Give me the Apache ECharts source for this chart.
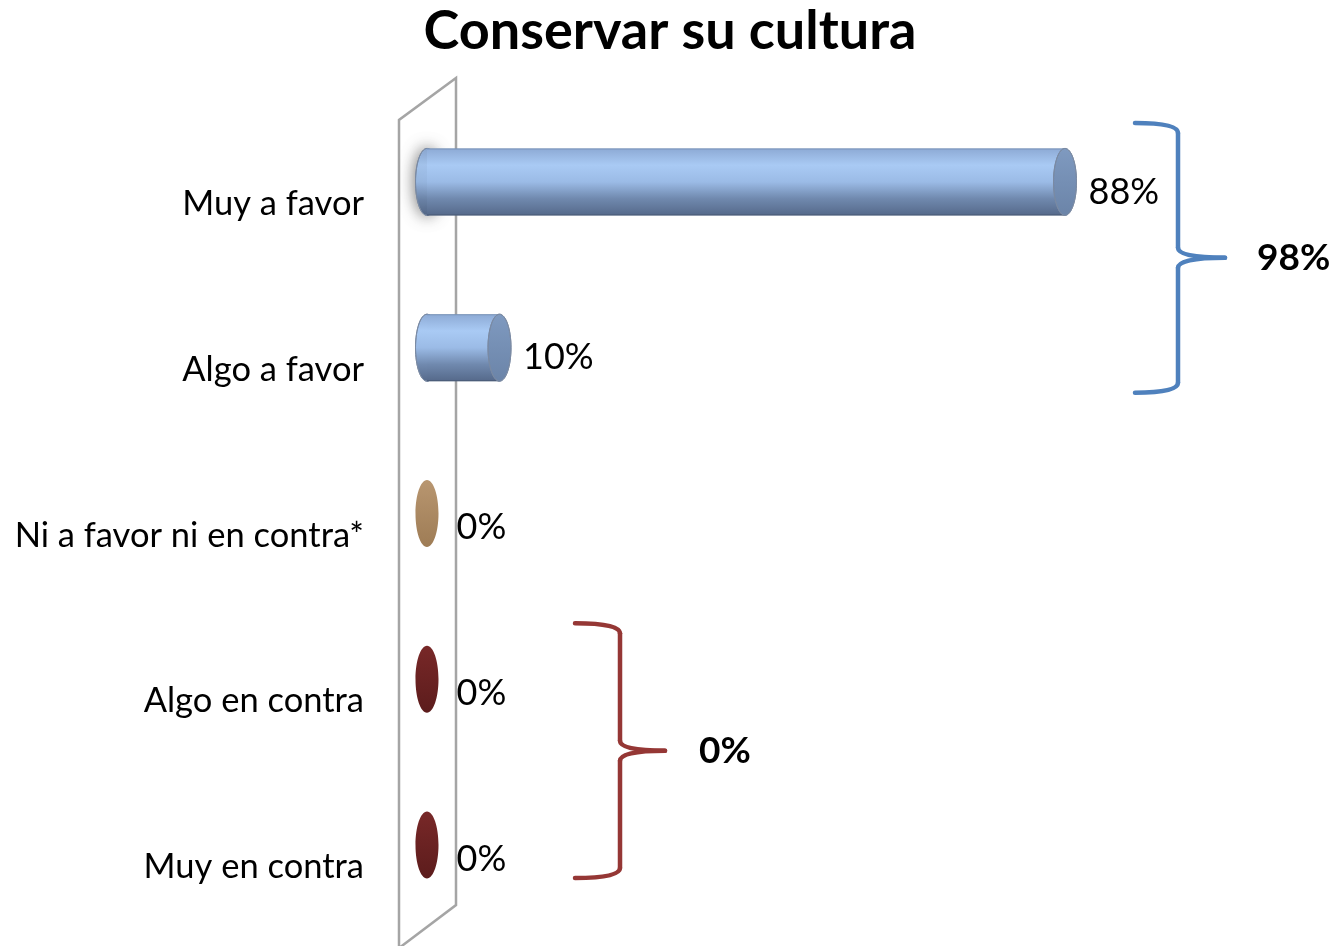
<!DOCTYPE html>
<html><head><meta charset="utf-8">
<script src="https://cdn.jsdelivr.net/npm/echarts@6/dist/echarts.min.js"></script>
<style>html,body{margin:0;padding:0;background:#fff}#c{width:1340px;height:946px}</style>
</head><body><div id="c"></div>
<script>
// ---- data ----
const chartTitle = 'Conservar su cultura';
const categories = ['Muy a favor', 'Algo a favor', 'Ni a favor ni en contra*', 'Algo en contra', 'Muy en contra'];
const values = [88, 10, 0, 0, 0];
const favorGroup = [0, 1];
const contraGroup = [3, 4];
const axisMax = 100;

// ---- styles ----
const FONT = 'Lato';
const tones = ['blue', 'blue', 'tan', 'red', 'red'];
const palette = {
  blue: { body: ['#8DAAD5', '#A9CAF4', '#9BBBE6', '#7089AE', '#55698A'], cap: ['#7F9AC0', '#6B84A8'], edge: '#7A8AA3' },
  tan:  { body: ['#A98358', '#BC9A72', '#B08C63', '#9C7A52', '#8C6B45'], cap: ['#B89670', '#9E7C55'], edge: '#A88A66' },
  red:  { body: ['#5E1C1C', '#782828', '#6E2323', '#5E1C1C', '#4E1515'], cap: ['#782828', '#5C1C1C'], edge: '#6A2525' }
};
const braceColors = { favor: '#4F81BD', contra: '#953735' };

function grad(stops) {
  const n = stops.length - 1;
  return new echarts.graphic.LinearGradient(0, 0, 0, 1, stops.map((c, k) => ({ offset: k / n, color: c })));
}

const RX = 11.5;

function renderItem(params, api) {
  const i = params.dataIndex;
  const v = api.value(0);
  const p0 = api.coord([0, i]);
  const p1 = api.coord([v, i]);
  const band = api.size([0, 1])[1];
  const h = band * 0.404;
  const cy = p0[1];
  const tone = palette[tones[i]];
  const children = [];
  if (v > 0) {
    children.push({ type: 'ellipse', shape: { cx: p0[0], cy: cy, rx: RX, ry: h / 2 },
      style: { fill: grad(tone.body), stroke: tone.edge, lineWidth: 1,
        shadowBlur: i === 0 ? 16 : 0, shadowColor: 'rgba(0,0,0,0.55)' } });
    children.push({ type: 'rect', shape: { x: p0[0], y: cy - h / 2, width: p1[0] - p0[0], height: h },
      style: { fill: grad(tone.body) } });
    children.push({ type: 'line', shape: { x1: p0[0], y1: cy - h / 2 + 0.5, x2: p1[0], y2: cy - h / 2 + 0.5 },
      style: { stroke: 'rgba(110,135,170,0.7)', lineWidth: 1 } });
    children.push({ type: 'line', shape: { x1: p0[0], y1: cy + h / 2 - 0.5, x2: p1[0], y2: cy + h / 2 - 0.5 },
      style: { stroke: 'rgba(70,85,110,0.7)', lineWidth: 1 } });
    children.push({ type: 'ellipse', shape: { cx: p1[0], cy: cy, rx: RX, ry: h / 2 },
      style: { fill: grad(tone.cap), stroke: tone.edge, lineWidth: 1 } });
  } else {
    children.push({ type: 'ellipse', shape: { cx: p0[0], cy: cy, rx: RX, ry: h / 2 },
      style: { fill: grad(tone.cap), stroke: null } });
  }
  children.push({ type: 'text', x: p1[0] + RX + (v > 0 ? 12 : 18), y: cy + (v > 0 ? 10 : 14),
    style: { text: v + '%', font: '36px ' + FONT, fill: '#000', verticalAlign: 'middle', align: 'left' } });
  return { type: 'group', children: children };
}

const chart = echarts.init(document.getElementById('c'), null, { renderer: 'canvas' });
const option = {
  backgroundColor: '#ffffff',
  animation: false,
  title: { text: chartTitle, left: 'center', top: 0,
    textStyle: { fontFamily: FONT, fontWeight: 'bold', fontSize: 54, color: '#000' } },
  grid: { left: 427, right: 188, top: 99, bottom: 18, containLabel: false },
  xAxis: { type: 'value', min: 0, max: axisMax, show: false },
  yAxis: { type: 'category', data: categories, inverse: true,
    axisLine: { show: false }, axisTick: { show: false }, splitLine: { show: false },
    axisLabel: { fontFamily: FONT, fontSize: 34.5, color: '#000', margin: 63, align: 'right',
      verticalAlign: 'top', lineHeight: 44 } },
  series: [{ type: 'custom', renderItem: renderItem, data: values.map(v => [v]), encode: { x: 0 }, z: 5, clip: false }]
};
chart.setOption(option);

// ---- decorations anchored to the axes ----
function brace(idxs, xSpine, tipLen, armLen, topOff, botOff, color, label, labelGap) {
  const yA = chart.convertToPixel({ yAxisIndex: 0 }, idxs[0]);
  const yB = chart.convertToPixel({ yAxisIndex: 0 }, idxs[idxs.length - 1]);
  const top = yA - topOff, bot = yB + botOff, mid = (top + bot) / 2;
  const xt = xSpine - tipLen, xm = xSpine + armLen;
  const r = 10;
  const st = { fill: null, stroke: color, lineWidth: 4.5, lineCap: 'round' };
  const seg = [
    { type: 'bezierCurve', shape: { x1: xt, y1: top, cpx1: xSpine, cpy1: top, x2: xSpine, y2: top + r } },
    { type: 'line', shape: { x1: xSpine, y1: top + r, x2: xSpine, y2: mid - 10 } },
    { type: 'bezierCurve', shape: { x1: xSpine, y1: mid - 10, cpx1: xSpine, cpy1: mid, x2: xm, y2: mid } },
    { type: 'bezierCurve', shape: { x1: xm, y1: mid, cpx1: xSpine, cpy1: mid, x2: xSpine, y2: mid + 10 } },
    { type: 'line', shape: { x1: xSpine, y1: mid + 10, x2: xSpine, y2: bot - r } },
    { type: 'bezierCurve', shape: { x1: xSpine, y1: bot - r, cpx1: xSpine, cpy1: bot, x2: xt, y2: bot } }
  ].map(e => Object.assign(e, { style: st, z: 3 }));
  seg.push({ type: 'text', x: xm + labelGap, y: mid, z: 3,
    style: { text: label, font: 'bold 37px ' + FONT, fill: '#000', verticalAlign: 'middle' } });
  return seg;
}
const sumOf = idx => idx.reduce((s, k) => s + values[k], 0);
const x0 = chart.convertToPixel({ xAxisIndex: 0 }, 0);
const gTop = chart.convertToPixel({ yAxisIndex: 0 }, 0) - 83;
const gBot = chart.convertToPixel({ yAxisIndex: 0 }, categories.length - 1) + 83;
const wallL = x0 - 28, wallR = x0 + 29;
const wall = { type: 'polyline', shape: { points: [[wallL, gBot + 20], [wallL, gTop + 21], [wallR, gTop - 21], [wallR, gBot - 23], [wallL, gBot + 20]] },
  style: { fill: null, stroke: '#A5A5A5', lineWidth: 2.5 }, z: 0 };
chart.setOption({
  graphic: [wall]
    .concat(brace(favorGroup, x0 + 751, 43, 47, 59, 45, braceColors.favor, sumOf(favorGroup) + '%', 32))
    .concat(brace(contraGroup, x0 + 193, 45, 45, 56, 33, braceColors.contra, sumOf(contraGroup) + '%', 34))
});
</script>
</body></html>
